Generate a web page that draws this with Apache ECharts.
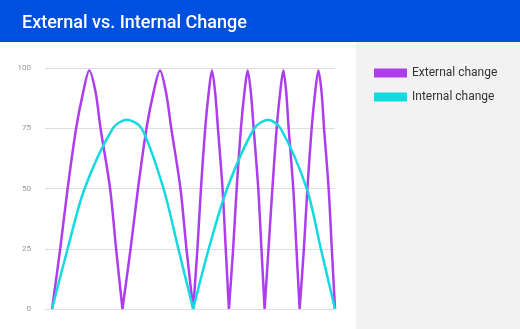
<!DOCTYPE html>
<html>
<head>
<meta charset="utf-8">
<script src="https://cdn.jsdelivr.net/npm/echarts@6/dist/echarts.min.js"></script>
<style>
html,body{margin:0;padding:0;background:#fff;}
#chart{width:520px;height:329px;}
</style>
</head>
<body>
<div id="chart"></div>
<script>
const chartTitle = 'External vs. Internal Change';
const seriesNames = ['External change', 'Internal change'];
const yTicks = [0, 25, 50, 75, 100];

// [x, y] pairs; '-' breaks the line at sharp valleys
const externalChange = [
  [0, 0], [0.23, 25], [0.44, 50], [0.68, 75], [0.88, 90], [1.05, 99], [1.23, 90], [1.37, 75], [1.64, 50], [1.81, 25], [1.99, 0], [1.99, '-'],
  [1.99, 0], [2.22, 25], [2.43, 50], [2.67, 75], [2.87, 90], [3.05, 99], [3.22, 90], [3.37, 75], [3.63, 50], [3.80, 25], [3.99, 0], [3.99, '-'],
  [3.99, 0], [4.11, 25], [4.21, 50], [4.33, 75], [4.43, 90], [4.52, 99], [4.61, 90], [4.69, 75], [4.82, 50], [4.91, 25], [5.00, 0], [5.00, '-'],
  [5.00, 0], [5.12, 25], [5.22, 50], [5.34, 75], [5.44, 90], [5.53, 99], [5.62, 90], [5.70, 75], [5.83, 50], [5.92, 25], [6.01, 0], [6.01, '-'],
  [6.01, 0], [6.12, 25], [6.23, 50], [6.35, 75], [6.45, 90], [6.54, 99], [6.62, 90], [6.69, 75], [6.82, 50], [6.91, 25], [7.00, 0], [7.00, '-'],
  [7.00, 0], [7.12, 25], [7.22, 50], [7.34, 75], [7.44, 90], [7.53, 99], [7.62, 90], [7.69, 75], [7.82, 50], [7.91, 25], [8.00, 0]
];
const internalChange = [
  [0, 0], [0.44, 25], [0.92, 50], [1.72, 75], [2.11, 78.5], [2.53, 75], [3.15, 50], [3.57, 25], [3.99, 0], [3.99, '-'],
  [3.99, 0], [4.43, 25], [4.95, 50], [5.72, 75], [6.11, 78.5], [6.46, 75], [7.20, 50], [7.60, 25], [8.00, 0]
];

const purple = '#ad3ded';
const cyan = '#14dadf';

const chart = echarts.init(document.getElementById('chart'), null, {renderer: 'canvas'});
chart.setOption({
  animation: false,
  backgroundColor: '#ffffff',
  graphic: [
    {type: 'rect', z: -10, silent: true, shape: {x: 0, y: 0, width: 520, height: 42}, style: {fill: '#0050e0'}},
    {type: 'rect', z: -10, silent: true, shape: {x: 356, y: 42, width: 164, height: 287}, style: {fill: '#f2f2f2'}}
  ],
  title: {
    text: chartTitle,
    left: 17,
    top: 9,
    textStyle: {color: '#ffffff', fontSize: 18, fontWeight: 500, fontFamily: 'Roboto'}
  },
  legend: {
    orient: 'vertical',
    left: 369,
    top: 62,
    icon: 'rect',
    itemWidth: 33,
    itemHeight: 9,
    itemGap: 12,
    data: seriesNames,
    textStyle: {color: '#333333', fontSize: 12, fontFamily: 'Roboto'}
  },
  grid: {left: 45, right: 185, top: 68, bottom: 20, containLabel: false},
  xAxis: {
    type: 'value', min: -0.2, max: 8, show: false
  },
  yAxis: {
    type: 'value', min: yTicks[0], max: yTicks[yTicks.length - 1], interval: 25,
    axisLine: {show: false}, axisTick: {show: false},
    axisLabel: {color: '#999999', fontSize: 8, margin: 14, fontFamily: 'Roboto'},
    splitLine: {lineStyle: {color: '#dddddd', width: 1}}
  },
  series: [
    {
      name: seriesNames[0], type: 'line', data: externalChange, smooth: 0.3,
      showSymbol: false, symbol: 'none', connectNulls: false,
      lineStyle: {color: purple, width: 2.5}, itemStyle: {color: purple}
    },
    {
      name: seriesNames[1], type: 'line', data: internalChange, smooth: 0.3,
      showSymbol: false, symbol: 'none', connectNulls: false,
      lineStyle: {color: cyan, width: 2.5}, itemStyle: {color: cyan}
    }
  ]
});
</script>
</body>
</html>
